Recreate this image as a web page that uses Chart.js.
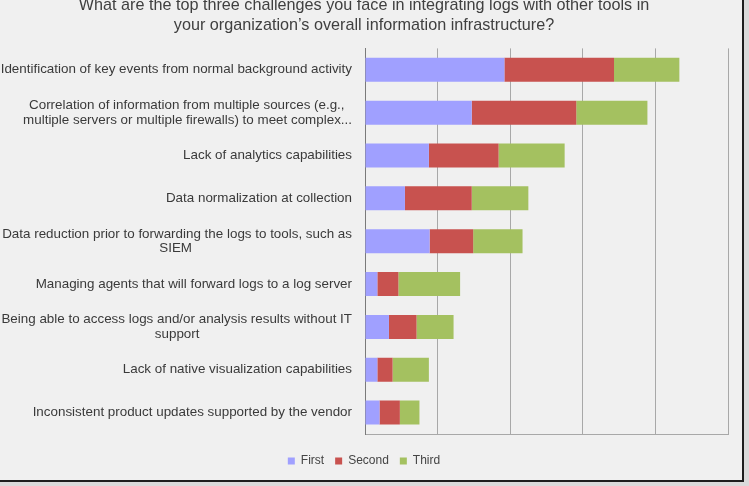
<!DOCTYPE html>
<html>
<head>
<meta charset="utf-8">
<script src="https://cdn.jsdelivr.net/npm/chart.js@4.4.1/dist/chart.umd.min.js"></script>
<style>
  html, body { margin: 0; padding: 0; background: #dadada; }
  .frame { position: relative; width: 742px; height: 480px; overflow: hidden; background: #f0f0f0;
           border-right: 2px solid #1e1e1e; border-bottom: 2px solid #1e1e1e; }
  .frame canvas { position: absolute; left: 0; top: -12px; }
</style>
</head>
<body>
<div class="frame"><canvas id="chart" width="742" height="492" style="width:742px;height:492px"></canvas></div>
<script>
const titleLines = [
  'What are the top three challenges you face in integrating logs with other tools in',
  'your organization\u2019s overall information infrastructure?'
];
const categories = [
  ['Identification of key events from normal background activity'],
  ['Correlation of information from multiple sources (e.g.,', 'multiple servers or multiple firewalls) to meet complex...'],
  ['Lack of analytics capabilities'],
  ['Data normalization at collection'],
  ['Data reduction prior to forwarding the logs to tools, such as', 'SIEM'],
  ['Managing agents that will forward logs to a log server'],
  ['Being able to access logs and/or analysis results without IT', 'support'],
  ['Lack of native visualization capabilities'],
  ['Inconsistent product updates supported by the vendor']
];
const seriesNames = ['First', 'Second', 'Third'];
const firstVals  = [19.2, 14.7, 8.8, 5.5, 8.9, 1.7, 3.3, 1.7, 2.0];
const secondVals = [15.1, 14.4, 9.6, 9.2, 6.0, 2.9, 3.8, 2.1, 2.8];
const thirdVals  = [9.0, 9.8, 9.1, 7.8, 6.8, 8.5, 5.1, 5.0, 2.7];
const colors = ['#a0a0ff', '#c8524f', '#a4c160'];

const FONT = '"Liberation Sans", Arial, sans-serif';
const LABEL_SIZE = 13.4;
Chart.defaults.font.family = FONT;

// centre the shorter lines of a wrapped label under the longest one (ticks are right aligned)
const mctx = document.createElement('canvas').getContext('2d');
mctx.font = LABEL_SIZE + 'px ' + FONT;
const spaceW = mctx.measureText(' ').width;
const labels = categories.map(lines => {
  if (lines.length === 1) return lines[0];
  const widths = lines.map(l => mctx.measureText(l).width);
  const maxW = Math.max(...widths);
  return lines.map((l, i) => l + ' '.repeat(Math.round((maxW - widths[i]) / 2 / spaceW)));
});

new Chart(document.getElementById('chart'), {
  type: 'bar',
  data: {
    labels,
    datasets: [firstVals, secondVals, thirdVals].map((d, i) => ({
      label: seriesNames[i], data: d, backgroundColor: colors[i], borderWidth: 0,
      barPercentage: 0.7, categoryPercentage: 0.8
    }))
  },
  options: {
    indexAxis: 'y',
    responsive: false,
    animation: false,
    layout: { padding: { left: 0, right: 14, top: 0, bottom: 3 } },
    plugins: {
      title: {
        display: true, text: titleLines, color: '#404040',
        font: { size: 16.2, weight: 'normal' }, padding: { top: 8, bottom: 13.5 }
      },
      legend: {
        position: 'bottom',
        labels: { boxWidth: 7, boxHeight: 7, color: '#444', font: { size: 12 }, padding: 11 }
      },
      tooltip: { enabled: false }
    },
    scales: {
      x: {
        stacked: true, min: 0, max: 50,
        afterFit(s) { s.height = 10; },
        ticks: { display: false, stepSize: 10 },
        grid: { color: '#a8a8a8', drawTicks: false },
        border: { display: true, color: '#a8a8a8' }
      },
      y: {
        stacked: true,
        afterFit(s) { s.width = 365; },
        ticks: { autoSkip: false, color: '#3a3a3a', font: { size: LABEL_SIZE, lineHeight: 1.1 }, padding: 13 },
        grid: { display: false, drawTicks: false },
        border: { display: true, color: '#7a7a7a' }
      }
    }
  }
});
</script>
</body>
</html>
